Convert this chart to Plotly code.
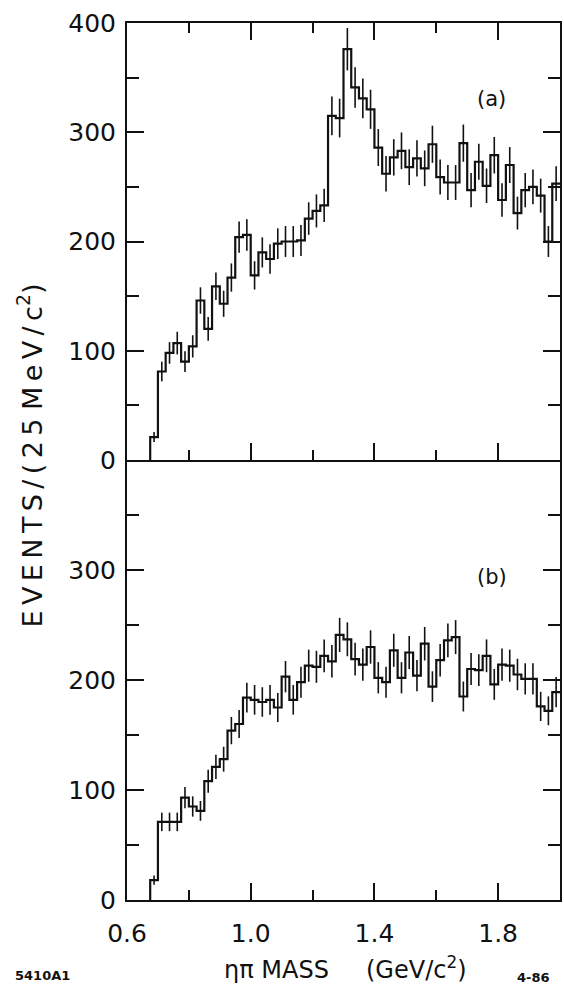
import numpy as np
import plotly.graph_objects as go
from plotly.subplots import make_subplots

# eta-pi invariant mass histograms, 25 MeV bins starting at 0.675 GeV
bin_start = 0.675
bin_width = 0.025

counts_a = [21, 81, 98, 107, 90, 104, 146, 120, 159, 143, 167, 204, 206, 169,
            190, 184, 198, 200, 200, 201, 221, 228, 233, 315, 313, 376, 341,
            331, 321, 286, 262, 277, 283, 268, 276, 267, 289, 259, 254, 254,
            290, 247, 273, 251, 279, 238, 270, 226, 247, 250, 242, 200, 253]

counts_b = [18, 71, 71, 71, 93, 85, 81, 108, 121, 128, 154, 160, 184, 182,
            180, 182, 175, 203, 182, 198, 213, 212, 222, 217, 241, 237, 219,
            214, 230, 202, 198, 227, 202, 225, 204, 233, 194, 218, 236, 239,
            185, 210, 209, 222, 196, 214, 213, 205, 201, 201, 176, 172, 189]

x_tick_vals = [0.6, 1.0, 1.4, 1.8]
x_tick_text = ["0.6", "1.0", "1.4", "1.8"]
x_minor_vals = [0.8, 1.2, 1.6, 2.0]
y_tick_vals_a = [0, 100, 200, 300, 400]
y_tick_vals_b = [0, 100, 200, 300]
y_minor_vals = [50, 150, 250, 350]

FONT = "DejaVu Sans"
INK = "#111111"
TS = "\u2009"  # thin space used to letter-space the axis title

fig = make_subplots(rows=2, cols=1, shared_xaxes=True, vertical_spacing=0)


def add_hist(counts, row):
    n = len(counts)
    edges = bin_start + bin_width * np.arange(n + 1)
    centers = edges[:-1] + bin_width / 2
    vals = np.array(counts, dtype=float)
    # step outline, starting from the baseline at threshold
    sx = np.concatenate([[edges[0]], edges])
    sy = np.concatenate([[0.0], vals, [vals[-1]]])
    fig.add_trace(go.Scatter(x=sx, y=sy, mode="lines", line_shape="hv",
                             line=dict(color=INK, width=2.2),
                             hoverinfo="skip", showlegend=False),
                  row=row, col=1)
    fig.add_trace(go.Scatter(x=centers, y=vals, mode="markers",
                             marker=dict(size=1, color=INK),
                             error_y=dict(type="data", array=np.sqrt(vals),
                                          width=0, thickness=1.6, color=INK),
                             showlegend=False),
                  row=row, col=1)


add_hist(counts_a, 1)
add_hist(counts_b, 2)

plot_top, plot_bottom = 23, 900
plot_h = plot_bottom - plot_top
split = (plot_bottom - 460) / plot_h

axis_common = dict(showline=True, linecolor=INK, linewidth=2, showgrid=False,
                   zeroline=False, ticks="inside", tickcolor=INK, tickwidth=1.5,
                   tickfont=dict(family=FONT, size=25, color=INK))

fig.update_xaxes(**axis_common, range=[0.6, 2.0], tickmode="array",
                 tickvals=x_tick_vals, ticktext=x_tick_text, ticklen=17,
                 minor=dict(tickmode="array", tickvals=x_minor_vals,
                            ticks="inside", ticklen=10, tickcolor=INK,
                            tickwidth=1.5))
fig.update_xaxes(row=1, col=1, mirror="allticks", showticklabels=False)
fig.update_xaxes(row=2, col=1, mirror=False, ticklabelstandoff=10)

fig.update_yaxes(**axis_common, range=[0, 400], mirror="allticks",
                 tickmode="array", ticklen=17, ticklabelstandoff=4,
                 minor=dict(tickmode="array", tickvals=y_minor_vals,
                            ticks="inside", ticklen=12, tickcolor=INK,
                            tickwidth=1.5))
fig.update_yaxes(row=1, col=1, tickvals=y_tick_vals_a, domain=[split, 1])
fig.update_yaxes(row=2, col=1, tickvals=y_tick_vals_b, domain=[0, split])

fig.add_annotation(x=1.78, y=330, xref="x", yref="y", text="(a)",
                   showarrow=False, font=dict(family=FONT, size=21, color=INK))
fig.add_annotation(x=1.78, y=294, xref="x2", yref="y2", text="(b)",
                   showarrow=False, font=dict(family=FONT, size=21, color=INK))


def px_to_paper(px, py):
    return (px - 127) / 435, (plot_bottom - py) / plot_h


def note(px, py, text, size, angle=0):
    tx, ty = px_to_paper(px, py)
    fig.add_annotation(x=tx, y=ty, xref="paper", yref="paper", text=text,
                       textangle=angle, xanchor="center", yanchor="middle",
                       showarrow=False,
                       font=dict(family=FONT, size=size, color=INK))


y_title = TS.join("EVENTS/(25") + " " + TS.join("MeV/c") + "<sup>2</sup>)"
note(30, 455, y_title, 27, angle=-90)
note(277, 970, "ηπ MASS", 24)
note(418, 968, "(GeV/c<sup>2</sup>)", 24)
note(42, 975, "<b>5410A1</b>", 13)
note(535, 977, "<b>4-86</b>", 13)

fig.update_layout(width=564, height=995, paper_bgcolor="white",
                  plot_bgcolor="white", showlegend=False,
                  margin=dict(l=127, r=2, t=plot_top, b=995 - plot_bottom))

fig.write_html("out.html")
